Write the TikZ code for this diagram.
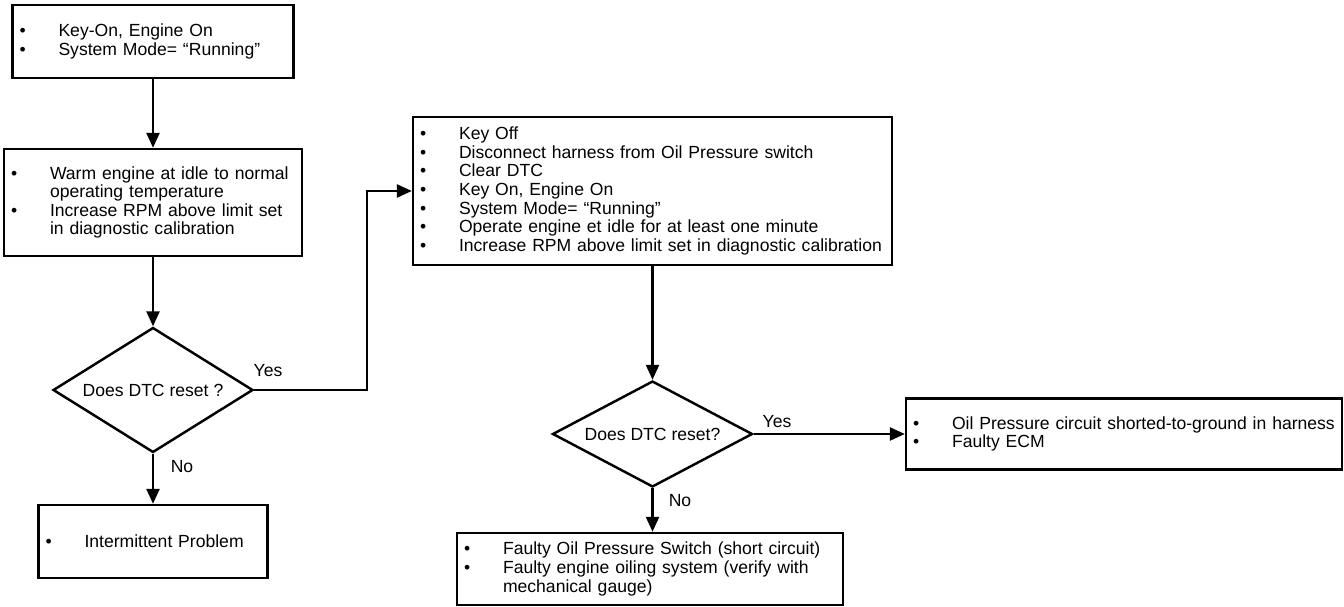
\documentclass[tikz,border=0pt]{standalone}
\usepackage{fontspec}
\setmainfont{Liberation Sans}
\usetikzlibrary{shapes.geometric, arrows.meta, positioning}
\newcommand{\vineta}{\makebox[0.82cm][l]{\hspace{0.04cm}\textbullet}}
\newcommand{\sigue}{\hspace*{0.82cm}}
\tikzset{
  caja/.style={rectangle, draw=black, line width=1.4pt, align=left, inner xsep=0.1cm,
               inner ysep=0pt, font=\fontsize{10}{10.6}\selectfont},
  rombo/.style={diamond, draw=black, line width=1.4pt, inner sep=1pt, minimum width=4cm,
                font=\fontsize{10}{10.6}\selectfont},
  flecha/.style={line width=1.4pt, -{Triangle[length=0.3cm,width=0.26cm]}},
  etiq/.style={font=\fontsize{10}{10.6}\selectfont, inner sep=0pt}
}
\begin{document}
\begin{tikzpicture}[x=0.02cm, y=-0.02cm]
  \useasboundingbox (0,0) rectangle (1344,607);
  \node (inicio) [caja, text width=5.42cm, minimum height=1.46cm] at (153,41.5)
    {\vineta Key-On, Engine On\\\vineta System Mode= “Running”};
  \node (calentar) [caja, text width=5.76cm, minimum height=2.14cm] at (153,202.5)
    {\vineta Warm engine at idle to normal\\\sigue operating temperature\\
     \vineta Increase RPM above limit set\\\sigue in diagnostic calibration};
  \node (pregA) [rombo, minimum height=2.5cm, aspect=1.6] at (153,390) {Does DTC reset ?};
  \node (intermit) [caja, text width=4.38cm, minimum height=1.46cm] at (153,541.5)
    {\vineta Intermittent Problem};
  \node (prueba) [caja, text width=9.38cm, minimum height=2.96cm] at (652.5,191)
    {\vineta Key Off\\\vineta Disconnect harness from Oil Pressure switch\\
     \vineta Clear DTC\\\vineta Key On, Engine On\\\vineta System Mode= “Running”\\
     \vineta Operate engine et idle for at least one minute\\
     \vineta Increase RPM above limit set in diagnostic calibration};
  \node (pregB) [rombo, minimum height=2.12cm, aspect=1.9] at (652.5,434) {Does DTC reset?};
  \node (corto) [caja, text width=8.52cm, minimum height=1.42cm] at (1124,434)
    {\vineta Oil Pressure circuit shorted-to-ground in harness\\\vineta Faulty ECM};
  \node (sensor) [caja, text width=7.52cm, minimum height=1.44cm] at (650,569)
    {\vineta Faulty Oil Pressure Switch (short circuit)\\
     \vineta Faulty engine oiling system (verify with\\\sigue mechanical gauge)};
  \coordinate (codo) at (367,390);
  \draw [flecha] (inicio) -- (calentar);
  \draw [flecha] (calentar) -- (pregA);
  \draw [flecha] (pregA.east) -- (codo) |- (prueba.west);
  \draw [flecha] (pregA) -- (intermit);
  \draw [flecha] (prueba.south -| pregB.north) -- (pregB.north);
  \draw [flecha] (pregB) -- (corto);
  \draw [flecha] (pregB.south) -- (pregB.south |- sensor.north);
  \node (siA) [etiq] at (268,371) {Yes};
  \node (noA) [etiq] at (182,467) {No};
  \node (siB) [etiq] at (777,422) {Yes};
  \node (noB) [etiq] at (680,501) {No};
\end{tikzpicture}
\end{document}
